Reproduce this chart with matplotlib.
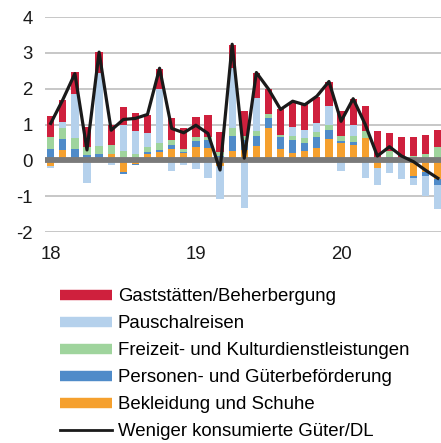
import matplotlib
matplotlib.use('Agg')
import matplotlib.pyplot as plt
from matplotlib.lines import Line2D
import numpy as np

# Data
# --------------
months = np.arange(33)  # Jan 2018 ... Sep 2020
tick_pos = [0, 12, 24]
tick_labels = ['18', '19', '20']

orange = [-0.17, 0.28, 0.00, 0.02, 0.02, 0.17, -0.32, -0.10, 0.17, 0.23,
          0.32, 0.21, 0.37, 0.35, -0.15, 0.26, 0.29, 0.40, 0.91, 0.33,
          0.21, 0.26, 0.35, 0.60, 0.49, 0.44, 0.63, -0.20, 0.03, -0.05,
          -0.44, -0.32, -0.53]
blue = [0.33, 0.32, 0.31, 0.13, 0.15, 0.00, -0.06, -0.04, 0.05, 0.06,
        0.12, 0.02, 0.17, 0.21, 0.12, 0.43, 0.27, 0.29, 0.28, 0.32,
        0.35, 0.21, 0.30, 0.26, 0.05, 0.07, 0.00, 0.00, 0.07, 0.00,
        -0.05, -0.12, -0.16]
green = [0.31, 0.30, 0.31, 0.21, 0.23, 0.25, 0.25, 0.19, 0.15, 0.20,
         0.12, 0.08, 0.12, 0.10, 0.10, 0.21, 0.12, 0.12, 0.11, 0.07,
         0.13, 0.15, 0.14, 0.13, 0.14, 0.17, 0.18, 0.03, 0.15, 0.03,
         0.12, 0.19, 0.38]
lightblue = [-0.03, 0.18, 1.24, -0.64, 2.04, -0.14, 0.73, 0.62, 0.38, 1.50,
             -0.29, -0.13, -0.23, -0.50, -0.92, 1.67, -1.33, 0.92, 0.00, 0.00,
             0.25, 0.22, 0.26, 0.52, -0.30, 0.32, -0.50, -0.50, -0.36, -0.48,
             -0.20, -0.55, -0.67]
red = [0.59, 0.59, 0.61, 0.58, 0.57, 0.56, 0.52, 0.51, 0.52, 0.57,
       0.61, 0.58, 0.55, 0.61, 0.58, 0.65, 0.71, 0.72, 0.69, 0.72,
       0.68, 0.72, 0.72, 0.69, 0.69, 0.72, 0.70, 0.80, 0.52, 0.62,
       0.53, 0.52, 0.48]
total = [1.03, 1.69, 2.42, 0.29, 3.02, 0.84, 1.14, 1.17, 1.28, 2.57,
         0.89, 0.77, 0.98, 0.75, -0.27, 3.24, 0.06, 2.45, 1.99, 1.42,
         1.65, 1.55, 1.79, 2.20, 1.09, 1.72, 1.00, 0.12, 0.38, 0.12,
         -0.04, -0.28, -0.50]

series = [orange, blue, green, lightblue, red]
colors = ['#f5a02e', '#4f8bc9', '#9fd49d', '#b5d1ec', '#cf203d']
labels = ['Bekleidung und Schuhe', 'Personen- und Güterbeförderung',
          'Freizeit- und Kulturdienstleistungen', 'Pauschalreisen',
          'Gaststätten/Beherbergung']

# Figure
# --------------
plt.rcParams['font.family'] = ['Liberation Sans', 'DejaVu Sans']
fig = plt.figure(figsize=(4.41, 4.43), dpi=100)
ax = fig.add_axes([45/441, 1-232/443, 396/441, 215/443])

# stacked bars, positives up and negatives down
pos_base = np.zeros(len(months))
neg_base = np.zeros(len(months))
for vals, col in zip(series, colors):
    v = np.array(vals)
    base = np.where(v >= 0, pos_base, neg_base)
    ax.bar(months, v, bottom=base, width=0.6, color=col, linewidth=0, zorder=2)
    pos_base = pos_base + np.where(v >= 0, v, 0)
    neg_base = neg_base + np.where(v < 0, v, 0)

ax.axhline(0, color='#7a7a7a', linewidth=4.2, zorder=3)
ax.plot(months, total, color='#1a1a1a', linewidth=2.3, zorder=4)

# axes style
ax.set_xlim(-0.47, 32.26)
ax.set_ylim(-2, 4)
ax.set_yticks([-2, -1, 0, 1, 2, 3, 4])
ax.set_yticklabels(['-2', '-1', '0', '1', '2', '3', '4'])
ax.set_xticks(tick_pos)
ax.set_xticklabels(tick_labels)
ax.tick_params(axis='both', length=0, labelsize=13.4, colors='#1a1a1a')
ax.tick_params(axis='y', pad=9)
ax.tick_params(axis='x', pad=10)
for yv in [-2, -1, 1, 2, 3, 4]:
    ax.axhline(yv, color='#bdbdbd', linewidth=1.2, zorder=1)
for s in ax.spines.values():
    s.set_visible(False)

# Legend
handles = [Line2D([0], [0], color=c, linewidth=7.5, solid_capstyle='butt')
           for c in colors[::-1]]
handles.append(Line2D([0], [0], color='#1a1a1a', linewidth=2))
leg_labels = labels[::-1] + ['Weniger konsumierte Güter/DL']
fig.legend(handles, leg_labels, loc='upper left', bbox_to_anchor=(60/441, 1-288/443),
           frameon=False, fontsize=13.4, borderpad=0, borderaxespad=0,
           handlelength=2.8, handletextpad=0.3, labelspacing=0.54)

plt.savefig('out.png', dpi=100)
